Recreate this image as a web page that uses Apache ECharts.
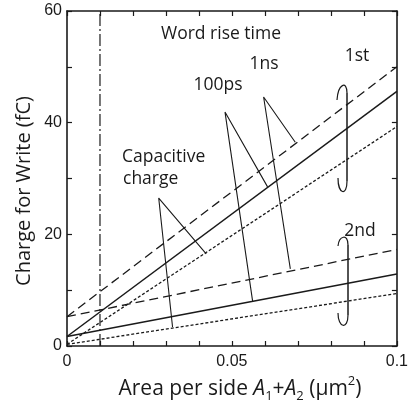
<!DOCTYPE html>
<html><head><meta charset="utf-8">
<script src="https://cdn.jsdelivr.net/npm/echarts@6/dist/echarts.min.js"></script>
<style>html,body{margin:0;padding:0;background:#fff}#c{width:411px;height:405px}</style>
</head><body><div id="c"></div>
<script>
// Data (x in µm², y in fC)
const xEnds = [0, 0.1];
const first1ns = [5.25, 50.0];     // long dash
const first100ps = [1.7, 45.6];    // solid
const firstCap = [0.3, 39.3];      // short dash
const second1ns = [5.25, 17.3];
const second100ps = [1.7, 12.9];
const secondCap = [0.3, 9.4];
const markerX = 0.01;
// leader lines: end1, apex, end2 (data coordinates)
const leaderCap = [[0.0422, 16.5], [0.0278, 26.5], [0.032, 3.4]];
const leader100ps = [[0.0608, 28.5], [0.0479, 41.9], [0.0563, 7.9]];
const leader1ns = [[0.0692, 36.5], [0.0596, 44.6], [0.0677, 13.8]];

const INK = '#1a1a1a';
const FONT = '"Open Sans", "Noto Sans", sans-serif';
const TICKFONT = '"Liberation Sans Narrow", "Liberation Sans", Arial, sans-serif';

function pts(ys){ return xEnds.map((x,i)=>[x, ys[i]]); }
function lineSeries(data, type, w){
  return {type:'line', data, showSymbol:false, symbol:'none', silent:true, animation:false,
    lineStyle:{color:INK, width:w||1.3, type:type}};
}
const LONG=[9,5], SHORT=[3,2];

const chart = echarts.init(document.getElementById('c'), null, {renderer:'canvas'});
const axisCommon = {
  axisLine:{show:true, onZero:false, lineStyle:{color:INK, width:1.6}},
  axisTick:{show:true, inside:true, length:5, lineStyle:{color:INK, width:1.2}},
  splitLine:{show:false}
};
chart.setOption({
  animation:false,
  grid:{left:67, right:10, top:11, bottom:59, containLabel:false},
  xAxis:[
    Object.assign({type:'value', min:0, max:0.1, interval:0.01, position:'bottom',
      axisLabel:{show:true, margin:8, color:INK, fontFamily:TICKFONT, fontSize:16, showMinLabel:true, showMaxLabel:true,
        formatter:v=>{const r=Math.round(v*1000); return r===0?'0':r===50?'0.05':r===100?'0.1':'';}}}, axisCommon),
    Object.assign({type:'value', min:0, max:0.1, interval:0.01, position:'top', axisLabel:{show:false}}, axisCommon)
  ],
  yAxis:[
    Object.assign({type:'value', min:0, max:60, interval:10, position:'left',
      axisLabel:{show:true, margin:5, color:INK, fontFamily:TICKFONT, fontSize:16, showMinLabel:true, showMaxLabel:true,
        formatter:v=>(Math.round(v)%20===0?String(Math.round(v)):'')}}, axisCommon),
    Object.assign({type:'value', min:0, max:60, interval:10, position:'right', axisLabel:{show:false}}, axisCommon)
  ],
  series:[
    lineSeries(pts(first1ns), LONG),
    lineSeries(pts(first100ps), 'solid', 1.5),
    lineSeries(pts(firstCap), SHORT),
    lineSeries(pts(second1ns), LONG),
    lineSeries(pts(second100ps), 'solid', 1.5),
    lineSeries(pts(secondCap), SHORT),
    lineSeries([[markerX,0],[markerX,60]], [12,3,2,3], 1.2),
    lineSeries(leaderCap, 'solid', 1.1),
    lineSeries(leader100ps, 'solid', 1.1),
    lineSeries(leader1ns, 'solid', 1.1)
  ],
  graphic:[
    {type:'text', x:221, y:34, style:{text:'Word rise time', font:'17.5px '+FONT, fill:INK, textAlign:'center', textVerticalAlign:'middle'}},
    {type:'text', x:264, y:64, style:{text:'1ns', font:'17.5px '+FONT, fill:INK, textAlign:'center', textVerticalAlign:'middle'}},
    {type:'text', x:218, y:85, style:{text:'100ps', font:'17.5px '+FONT, fill:INK, textAlign:'center', textVerticalAlign:'middle'}},
    {type:'text', x:357, y:56, style:{text:'1st', font:'17.5px '+FONT, fill:INK, textAlign:'center', textVerticalAlign:'middle'}},
    {type:'text', x:360, y:231, style:{text:'2nd', font:'17.5px '+FONT, fill:INK, textAlign:'center', textVerticalAlign:'middle'}},
    {type:'text', x:122, y:157, style:{text:'Capacitive', font:'17.5px '+FONT, fill:INK, textAlign:'left', textVerticalAlign:'middle'}},
    {type:'text', x:123, y:179, style:{text:'charge', font:'17.5px '+FONT, fill:INK, textAlign:'left', textVerticalAlign:'middle'}},
    {type:'text', x:24, y:191, rotation:Math.PI/2, style:{text:'Charge for Write (fC)', font:'20px '+FONT, fill:INK, textAlign:'center', textVerticalAlign:'middle'}},
    {type:'text', x:240, y:389, style:{
      text:'{n|Area per side }{i|A}{s|1}{n|+}{i|A}{s|2}{n| (µm}{p|2}{n|)}',
      textAlign:'center', textVerticalAlign:'middle', fill:INK,
      rich:{
        n:{fontFamily:FONT, fontSize:21, fill:INK, lineHeight:28, verticalAlign:'middle'},
        i:{fontFamily:FONT, fontSize:21, fontStyle:'italic', fill:INK, lineHeight:28, verticalAlign:'middle'},
        s:{fontFamily:FONT, fontSize:13, fill:INK, lineHeight:28, verticalAlign:'bottom'},
        p:{fontFamily:FONT, fontSize:13, fill:INK, lineHeight:28, verticalAlign:'top'}
      }}},
    // bracket 1st
    {type:'bezierCurve', shape:{x1:337,y1:100,cpx1:338,cpy1:84,cpx2:347,cpy2:80,x2:347,y2:93}, style:{stroke:INK, lineWidth:1.2, fill:null}},
    {type:'line', shape:{x1:347,y1:93,x2:347,y2:181}, style:{stroke:INK, lineWidth:1.5}},
    {type:'bezierCurve', shape:{x1:347,y1:181,cpx1:347,cpy1:197,cpx2:338,cpy2:194,x2:338,y2:178}, style:{stroke:INK, lineWidth:1.2, fill:null}},
    // bracket 2nd
    {type:'bezierCurve', shape:{x1:338,y1:246,cpx1:339,cpy1:236,cpx2:348,cpy2:233,x2:348,y2:245}, style:{stroke:INK, lineWidth:1.2, fill:null}},
    {type:'line', shape:{x1:348,y1:245,x2:348,y2:315}, style:{stroke:INK, lineWidth:1.5}},
    {type:'bezierCurve', shape:{x1:348,y1:315,cpx1:348,cpy1:330,cpx2:338,cpy2:328,x2:338,y2:313}, style:{stroke:INK, lineWidth:1.2, fill:null}}
  ]
});
</script></body></html>
